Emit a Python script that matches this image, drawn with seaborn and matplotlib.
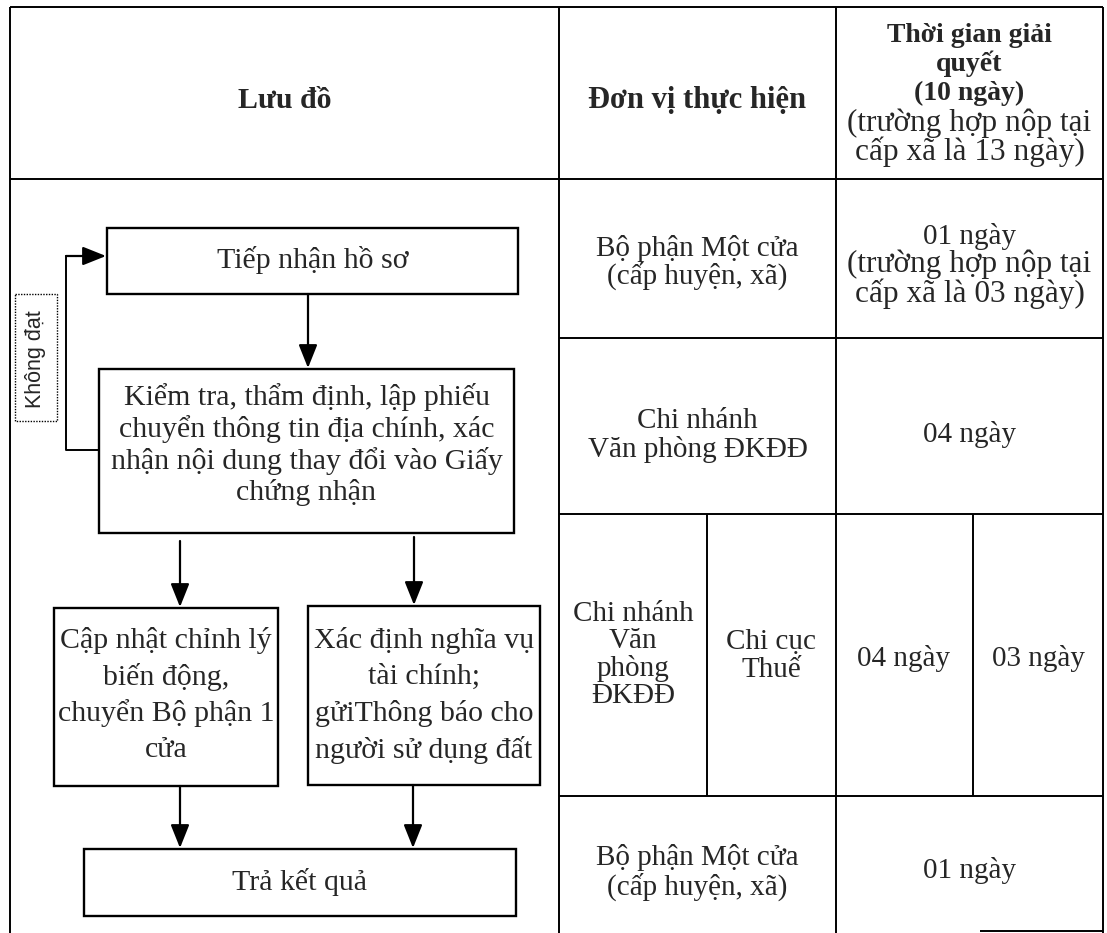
import matplotlib
matplotlib.use("Agg")
import matplotlib.pyplot as plt
from matplotlib.patches import Rectangle
import seaborn as sns

sns.set_theme(style="white")
plt.rcParams['font.family'] = ['Liberation Serif', 'DejaVu Serif']

# ---------------- text content ----------------
header_flow = "Lưu đồ"
header_unit = "Đơn vị thực hiện"
header_time_bold = ["Thời gian giải", "quyết", "(10 ngày)"]
header_time_note = ["(trường hợp nộp tại", "cấp xã là 13 ngày)"]

step_receive = ["Tiếp nhận hồ sơ"]
step_check = ["Kiểm tra, thẩm định, lập phiếu", "chuyển thông tin địa chính, xác",
              "nhận nội dung thay đổi vào Giấy", "chứng nhận"]
step_update = ["Cập nhật chỉnh lý", "biến động,", "chuyển Bộ phận 1", "cửa"]
step_tax = ["Xác định nghĩa vụ", "tài chính;", "gửiThông báo cho", "người sử dụng đất"]
step_return = ["Trả kết quả"]
reject_label = "Không đạt"

unit_row1 = ["Bộ phận Một cửa", "(cấp huyện, xã)"]
time_row1_main = "01 ngày"
time_row1_note = ["(trường hợp nộp tại", "cấp xã là 03 ngày)"]
unit_row2 = ["Chi nhánh", "Văn phòng ĐKĐĐ"]
time_row2 = ["04 ngày"]
unit_row3a = ["Chi nhánh", "Văn", "phòng", "ĐKĐĐ"]
unit_row3b = ["Chi cục", "Thuế"]
time_row3a = ["04 ngày"]
time_row3b = ["03 ngày"]
unit_row4 = ["Bộ phận Một cửa", "(cấp huyện, xã)"]
time_row4 = ["01 ngày"]

# ---------------- layout (pixel space) ----------------
W, H = 1107, 933
FS = 21
FSN = 22.5
FSB = 21.5

fig = plt.figure(figsize=(W / 100, H / 100), dpi=100)
ax = fig.add_axes([0, 0, 1, 1])
ax.set_xlim(0, W)
ax.set_ylim(H, 0)
ax.axis("off")

X_L, X_C1, X_S1, X_C2, X_S2, X_R = 10, 559, 707, 836, 973, 1103
Y_T, Y_H, Y_1, Y_2, Y_3 = 7, 179, 338, 514, 796
TLW = 1.4


def hline(y, x0, x1, lw=TLW):
    ax.plot([x0, x1], [y, y], color="black", lw=lw, solid_capstyle="butt")


def vline(x, y0, y1, lw=TLW):
    ax.plot([x, x], [y0, y1], color="black", lw=lw, solid_capstyle="butt")


# table grid
hline(Y_T, X_L, X_R)
hline(Y_H, X_L, X_R)
for y in (Y_1, Y_2, Y_3):
    hline(y, X_C1, X_R)
hline(931, 980, X_R)
for x in (X_L, X_C1, X_C2, X_R):
    vline(x, Y_T, H)
vline(X_S1, Y_2, Y_3)
vline(X_S2, Y_2, Y_3)


def lines(cx, cy, txt, fs=FS, weight="normal", lh=28):
    n = len(txt)
    for i, t in enumerate(txt):
        y = cy + (i - (n - 1) / 2) * lh
        ax.text(cx, y, t, ha="center", va="center", fontsize=fs, fontweight=weight)


CX3 = (X_C2 + X_R) / 2
CX2 = (X_C1 + X_C2) / 2

# headers
ax.text((X_L + X_C1) / 2, 100, header_flow, ha="center", va="center", fontsize=FSB, fontweight="bold")
ax.text(CX2, 100, header_unit, ha="center", va="center", fontsize=22, fontweight="bold")
for i, t in enumerate(header_time_bold):
    ax.text(CX3, 35 + i * 29, t, ha="center", va="center", fontsize=20, fontweight="bold")
for i, t in enumerate(header_time_note):
    ax.text(CX3, 123 + i * 29, t, ha="center", va="center", fontsize=FSN)

# right side cells
lines(CX2, 262, unit_row1)
ax.text(CX3, 236, time_row1_main, ha="center", va="center", fontsize=FS)
lines(CX3, 279, time_row1_note, fs=FSN, lh=29)
lines(CX2, 435, unit_row2, lh=29)
lines(CX3, 434, time_row2)
lines(633, 655, unit_row3a, lh=27.5)
lines(771, 656, unit_row3b, lh=28)
lines(904, 658, time_row3a)
lines(1039, 658, time_row3b)
lines(CX2, 872, unit_row4, lh=29)
lines(CX3, 870, time_row4)

# flowchart boxes
BLW = 1.7
boxes = [
    ((107, 228, 518, 294), step_receive, 260, 32),
    ((99, 369, 514, 533), step_check, 445, 32),
    ((54, 608, 278, 786), step_update, 695, 36.5),
    ((308, 606, 540, 785), step_tax, 695, 36.5),
    ((84, 849, 516, 916), step_return, 882, 32),
]
for (x0, y0, x1, y1), txt, cy, lh in boxes:
    ax.add_patch(Rectangle((x0, y0), x1 - x0, y1 - y0, fill=False, ec="black", lw=BLW))
    lines((x0 + x1) / 2, cy, txt, fs=21.5, lh=lh)

arrow_kw = dict(arrowstyle="-|>,head_length=0.95,head_width=0.38", color="black", lw=1.6,
                shrinkA=0, shrinkB=0, mutation_scale=15)


def arrow(x0, y0, x1, y1):
    ax.annotate("", xy=(x1, y1), xytext=(x0, y0), arrowprops=arrow_kw)


arrow(308, 294, 308, 368)
arrow(180, 541, 180, 607)
arrow(414, 537, 414, 605)
arrow(180, 786, 180, 848)
arrow(413, 785, 413, 848)

# feedback loop
ax.plot([99, 66, 66], [450, 450, 256], color="black", lw=1.4)
arrow(66, 256, 106, 256)

ax.add_patch(Rectangle((15, 294), 42, 127, fill=False, ec="black", lw=1.0, ls=(0, (1, 1))))
ax.text(36, 359, reject_label, rotation=90, ha="center", va="center", fontsize=15.5,
        family=["Liberation Sans", "DejaVu Sans"])

fig.savefig("out.png", dpi=100, facecolor="white")
